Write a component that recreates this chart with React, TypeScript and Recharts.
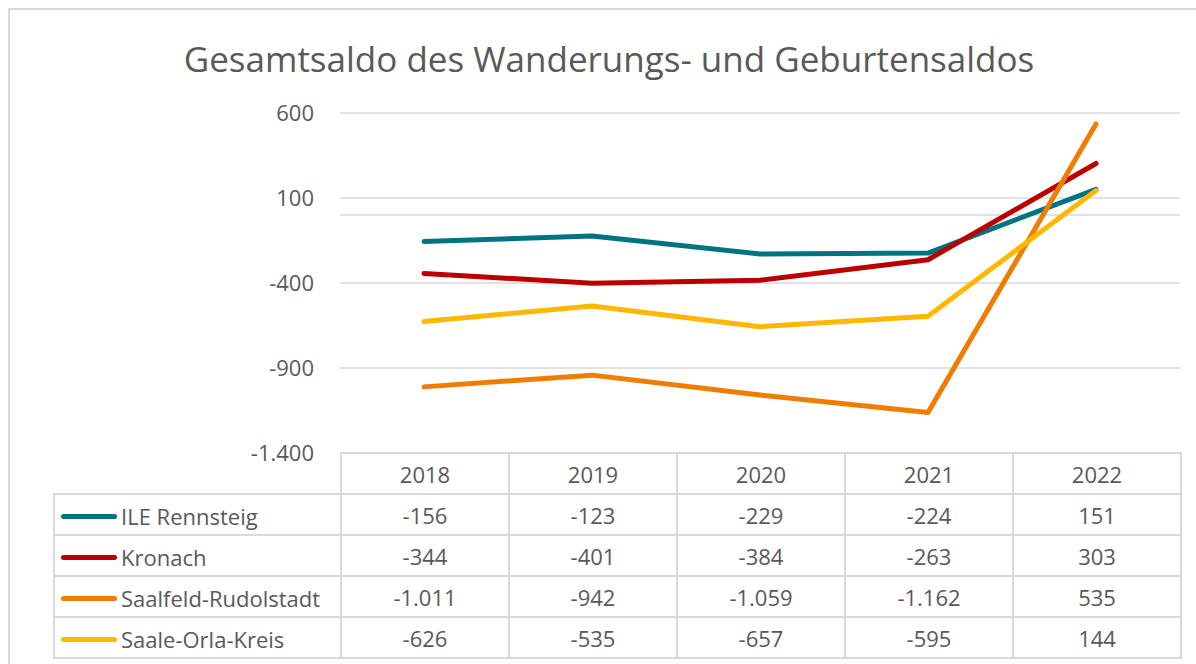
import React from 'react';
import { LineChart, Line, XAxis, YAxis, CartesianGrid, ReferenceLine } from 'recharts';

const years = ['2018', '2019', '2020', '2021', '2022'];
const ileRennsteig = [-156, -123, -229, -224, 151];
const kronach = [-344, -401, -384, -263, 303];
const saalfeldRudolstadt = [-1011, -942, -1059, -1162, 535];
const saaleOrlaKreis = [-626, -535, -657, -595, 144];
const yTicks = [-1400, -900, -400, 100, 600];

const series = [
    { key: 'ile', name: 'ILE Rennsteig', values: ileRennsteig, color: '#007383' },
    { key: 'kronach', name: 'Kronach', values: kronach, color: '#BA0000' },
    { key: 'saalfeld', name: 'Saalfeld-Rudolstadt', values: saalfeldRudolstadt, color: '#F07C00' },
    { key: 'orla', name: 'Saale-Orla-Kreis', values: saaleOrlaKreis, color: '#FFB700' },
];

const data = years.map((year, i) => {
    const row: Record<string, string | number> = { year };
    series.forEach(s => { row[s.key] = s.values[i]; });
    return row;
});

// German number format: 1.011
const fmt = (n: number) =>
    (n < 0 ? '-' : '') + Math.abs(n).toString().replace(/\B(?=(\d{3})+(?!\d))/g, '.');

const FONT = '"Open Sans", "Noto Sans", sans-serif';
const TEXT = '#595959';
const GRID = '#d9d9d9';

const cell: React.CSSProperties = {
    border: `2px solid ${GRID}`,
    height: 38,
    padding: 0,
    textAlign: 'center',
    fontSize: 22,
    lineHeight: '30px',
    color: TEXT,
    boxSizing: 'border-box',
};

const App: React.FC = () => {
    return (
        <div style={{ position: 'fixed', left: 0, top: 0, width: 1196, height: 664, overflow: 'hidden', background: '#fff', fontFamily: FONT }}>
            <div style={{ position: 'absolute', left: 8, top: 8, width: 1300, height: 800, borderLeft: `2px solid ${GRID}`, borderTop: `2px solid ${GRID}` }} />
            <div style={{ position: 'absolute', left: 0, top: 41, width: 1218, textAlign: 'center', fontSize: 35, lineHeight: 1, color: TEXT }}>
                Gesamtsaldo des Wanderungs- und Geburtensaldos
            </div>
            <div style={{ position: 'absolute', left: 0, top: 0 }}>
                <LineChart width={1196} height={470} data={data} margin={{ top: 113, right: 16, bottom: 17, left: 260 }}>
                    <CartesianGrid vertical={false} stroke={GRID} strokeWidth={1.5} />
                    <XAxis dataKey="year" hide padding={{ left: 84, right: 84 }} />
                    <YAxis
                        width={80}
                        domain={[-1400, 600]}
                        ticks={yTicks}
                        tickFormatter={fmt}
                        axisLine={false}
                        tickLine={false}
                        tickSize={6}
                        tickMargin={20}
                        tick={{ fill: TEXT, fontSize: 22, fontFamily: FONT }}
                    />
                    <ReferenceLine y={0} stroke={GRID} strokeWidth={1.5} />
                    {series.map(s => (
                        <Line
                            key={s.key}
                            dataKey={s.key}
                            name={s.name}
                            stroke={s.color}
                            strokeWidth={5}
                            strokeLinecap="round"
                            strokeLinejoin="round"
                            dot={false}
                            activeDot={false}
                            type="linear"
                            isAnimationActive={false}
                        />
                    ))}
                </LineChart>
            </div>
            <table style={{ position: 'absolute', left: 53, top: 452, borderCollapse: 'collapse', tableLayout: 'fixed', width: 1129, fontFamily: FONT }}>
                <colgroup>
                    <col style={{ width: 287 }} />
                    {years.map(y => <col key={y} style={{ width: 168 }} />)}
                </colgroup>
                <tbody>
                    <tr style={{ height: 41 }}>
                        <td style={{ ...cell, borderTop: 'none', borderLeft: 'none' }} />
                        {years.map(y => <td key={y} style={cell}>{y}</td>)}
                    </tr>
                    {series.map(s => (
                        <tr key={s.key} style={{ height: 41 }}>
                            <td style={{ ...cell, textAlign: 'left', paddingLeft: 6, whiteSpace: 'nowrap' }}>
                                <span style={{ display: 'inline-block', width: 56, height: 5, borderRadius: 3, background: s.color, verticalAlign: 'middle', marginRight: 4 }} />
                                <span style={{ verticalAlign: 'middle' }}>{s.name}</span>
                            </td>
                            {s.values.map((v, i) => <td key={i} style={cell}>{fmt(v)}</td>)}
                        </tr>
                    ))}
                </tbody>
            </table>
        </div>
    );
};

export default App;
